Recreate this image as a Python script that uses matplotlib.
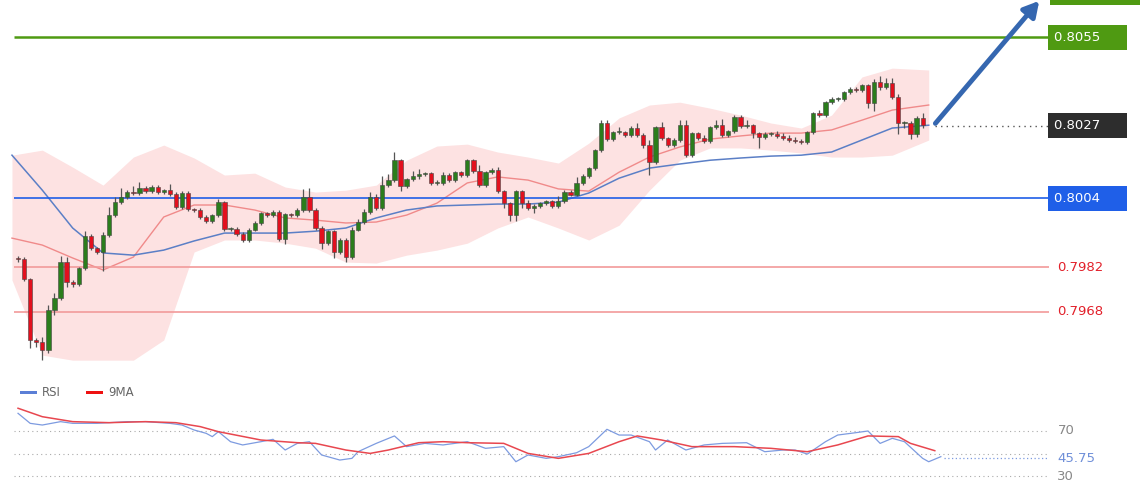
import matplotlib
matplotlib.use("Agg")
import matplotlib.pyplot as plt
import numpy as np
from matplotlib.patches import Rectangle

# ---- price data (one candle per index) ----
first_open = 0.79850
closes = [
    0.79847, 0.79783, 0.79590, 0.79584, 0.79558, 0.79685, 0.79723, 0.79837, 0.79774, 0.79767,
    0.79818, 0.79920, 0.79881, 0.79869, 0.79923, 0.79986, 0.80027, 0.80043, 0.80059, 0.80056,
    0.80072, 0.80062, 0.80075, 0.80059, 0.80065, 0.80053, 0.80011, 0.80056, 0.80005, 0.80002,
    0.79980, 0.79967, 0.79986, 0.80027, 0.79942, 0.79942, 0.79926, 0.79907, 0.79939, 0.79961,
    0.79992, 0.79986, 0.79996, 0.79910, 0.79989, 0.79986, 0.80002, 0.80043, 0.80002, 0.79945,
    0.79897, 0.79935, 0.79869, 0.79907, 0.79853, 0.79939, 0.79964, 0.79996, 0.80043, 0.80008,
    0.80081, 0.80097, 0.80160, 0.80078, 0.80100, 0.80110, 0.80116, 0.80119, 0.80088, 0.80088,
    0.80113, 0.80097, 0.80122, 0.80113, 0.80160, 0.80126, 0.80081, 0.80122, 0.80129, 0.80062,
    0.80024, 0.79986, 0.80062, 0.80024, 0.80008, 0.80015, 0.80024, 0.80030, 0.80015, 0.80030,
    0.80059, 0.80050, 0.80088, 0.80110, 0.80135, 0.80192, 0.80278, 0.80227, 0.80249, 0.80249,
    0.80240, 0.80262, 0.80240, 0.80208, 0.80154, 0.80265, 0.80230, 0.80208, 0.80224, 0.80271,
    0.80176, 0.80246, 0.80230, 0.80221, 0.80265, 0.80271, 0.80240, 0.80252, 0.80297, 0.80268,
    0.80271, 0.80246, 0.80233, 0.80243, 0.80243, 0.80237, 0.80230, 0.80224, 0.80221, 0.80218,
    0.80249, 0.80309, 0.80303, 0.80344, 0.80354, 0.80354, 0.80376, 0.80386, 0.80382, 0.80398,
    0.80341, 0.80408, 0.80392, 0.80405, 0.80360, 0.80278, 0.80278, 0.80243, 0.80294, 0.80271,
]
# wick extensions beyond the body, in pips
upper_wick = [
    1, 1, 1, 1, 3, 3, 3, 4, 3, 1,
    1, 3, 1, 1, 2, 5, 3, 6, 1, 4,
    4, 1, 1, 1, 1, 4, 1, 1, 1, 1,
    1, 1, 1, 2, 1, 1, 1, 1, 1, 1,
    1, 1, 1, 1, 1, 1, 1, 5, 6, 1,
    1, 1, 1, 1, 1, 2, 2, 2, 3, 2,
    6, 4, 5, 1, 1, 3, 3, 1, 1, 2,
    2, 1, 1, 1, 1, 1, 4, 1, 1, 2,
    1, 1, 1, 1, 2, 1, 1, 1, 1, 3,
    1, 1, 4, 1, 1, 1, 2, 2, 1, 3,
    1, 1, 3, 1, 3, 1, 3, 1, 1, 3,
    3, 1, 1, 2, 1, 3, 4, 1, 1, 1,
    3, 1, 1, 1, 1, 2, 2, 2, 2, 1,
    1, 1, 2, 1, 1, 1, 1, 1, 1, 1,
    1, 2, 4, 3, 3, 2, 1, 1, 1, 3,
]
lower_wick = [
    2, 1, 5, 3, 6, 2, 3, 1, 3, 2,
    1, 1, 1, 1, 12, 1, 1, 1, 1, 1,
    1, 1, 1, 1, 1, 1, 1, 1, 1, 1,
    1, 1, 1, 1, 1, 1, 1, 1, 1, 1,
    1, 1, 1, 1, 3, 1, 1, 1, 1, 1,
    4, 1, 4, 1, 3, 1, 1, 1, 1, 1,
    1, 1, 1, 3, 1, 1, 2, 1, 1, 1,
    1, 1, 1, 1, 1, 1, 1, 1, 1, 1,
    3, 4, 4, 3, 1, 3, 1, 1, 1, 1,
    1, 1, 1, 1, 1, 1, 1, 1, 1, 1,
    1, 1, 1, 2, 8, 1, 1, 1, 1, 1,
    1, 1, 1, 1, 1, 1, 1, 1, 1, 1,
    1, 3, 7, 1, 1, 1, 1, 1, 1, 1,
    1, 1, 1, 1, 1, 1, 1, 1, 1, 1,
    3, 5, 2, 1, 1, 7, 3, 3, 2, 2,
]

# ---- indicators sampled along the candle index ----
ind_idx = [-1, 4, 9, 14, 19, 24, 29, 34, 39, 44, 49, 54, 59, 64, 69, 74,
           79, 84, 89, 94, 99, 104, 109, 114, 119, 124, 129, 134, 139, 144, 150]
bb_upper = [0.80176, 0.80192, 0.80138, 0.80081, 0.80170, 0.80208, 0.80167, 0.80113,
            0.80119, 0.80075, 0.80059, 0.80065, 0.80081, 0.80160, 0.80205, 0.80211,
            0.80186, 0.80170, 0.80151, 0.80214, 0.80294, 0.80335, 0.80344, 0.80325,
            0.80303, 0.80278, 0.80262, 0.80303, 0.80424, 0.80452, 0.80446]
bb_lower = [0.79780, 0.79542, 0.79526, 0.79526, 0.79526, 0.79590, 0.79869, 0.79907,
            0.79907, 0.79897, 0.79881, 0.79837, 0.79834, 0.79859, 0.79875, 0.79897,
            0.79945, 0.79980, 0.79945, 0.79907, 0.79954, 0.80065, 0.80160, 0.80199,
            0.80199, 0.80192, 0.80183, 0.80170, 0.80170, 0.80176, 0.80224]
ma_fast = [0.79913, 0.79891, 0.79850, 0.79812, 0.79853, 0.79980, 0.80018, 0.80018,
           0.80002, 0.79977, 0.79970, 0.79961, 0.79964, 0.79986, 0.80024, 0.80088,
           0.80107, 0.80097, 0.80069, 0.80062, 0.80122, 0.80170, 0.80202, 0.80227,
           0.80237, 0.80246, 0.80246, 0.80256, 0.80287, 0.80319, 0.80335]
ma_slow = [0.80176, 0.80065, 0.79945, 0.79866, 0.79859, 0.79875, 0.79904, 0.79929,
           0.79929, 0.79929, 0.79935, 0.79945, 0.79977, 0.80002, 0.80015, 0.80018,
           0.80021, 0.80021, 0.80027, 0.80056, 0.80103, 0.80135, 0.80148, 0.80160,
           0.80167, 0.80173, 0.80176, 0.80186, 0.80224, 0.80262, 0.80271]

# ---- levels ----
resistance = 0.8055
pivot = 0.8004
supports = [0.7982, 0.7968]
last_price = 0.8027

# ---- RSI panel ----
rsi_idx = [0, 2, 4, 7, 9, 13, 18, 21, 25, 27, 29, 31, 32, 33, 35, 37, 40, 42, 44, 46,
           48, 50, 53, 55, 56, 59, 62, 64, 67, 70, 74, 77, 80, 82, 84, 87, 89, 92, 94, 97,
           99, 101, 104, 105, 107, 110, 113, 116, 120, 123, 126, 128, 130, 133, 135, 138,
           140, 142, 144, 146, 149, 150, 152]
rsi_val = [85.7, 76.8, 75.3, 78.3, 76.8, 76.8, 78.3, 78.3, 76.8, 75.3, 70.9, 67.9, 65.0,
           69.4, 60.5, 57.6, 60.5, 62.6, 53.1, 59.0, 60.5, 48.7, 44.2, 45.7, 51.6, 59.0,
           65.6, 56.1, 59.0, 57.6, 60.5, 54.6, 56.1, 42.7, 48.7, 45.7, 47.2, 50.7, 56.1,
           71.5, 66.4, 66.4, 60.5, 53.1, 62.0, 53.1, 57.6, 59.0, 59.6, 51.6, 53.1, 53.1,
           49.5, 60.5, 66.4, 68.5, 70.0, 59.0, 63.5, 60.5, 45.7, 42.7, 47.2]
ma9_idx = [0, 4, 9, 15, 21, 26, 30, 33, 40, 46, 49, 54, 58, 61, 66, 70, 74, 80, 84, 89,
           94, 99, 102, 106, 111, 118, 124, 130, 135, 140, 145, 147, 151]
ma9_val = [90.2, 82.7, 78.3, 77.4, 78.3, 77.4, 73.9, 69.4, 62.0, 59.6, 59.0, 53.1, 50.1,
           53.1, 59.6, 60.5, 59.6, 59.0, 50.1, 45.7, 50.1, 60.5, 65.6, 62.0, 56.1, 56.1,
           54.6, 51.6, 57.6, 65.6, 65.0, 59.0, 52.5]
rsi_last = 45.75

GREEN = "#2b7d1c"
RED = "#e2101e"
fig = plt.figure(figsize=(11.4, 5), dpi=100)
fig.patch.set_facecolor("white")
ax = fig.add_axes([0, 0.25, 1, 0.75])
rx = fig.add_axes([0, 0, 1, 0.24])
for a in (ax, rx):
    a.set_axis_off()
    a.set_xlim(-2.97, 184.8)
ax.set_ylim(0.79479, 0.80668)
rx.set_ylim(8.7, 115.3)

# bollinger band and moving averages
ax.fill_between(ind_idx, bb_lower, bb_upper, color="#fde2e2", lw=0, zorder=1)
ax.plot(ind_idx, ma_fast, color="#f08a8a", lw=1, zorder=2)
ax.plot(ind_idx, ma_slow, color="#5b7fc6", lw=1.1, zorder=2)

# levels
x0, x1 = -0.7, 169.8
ax.hlines(resistance, x0, x1, color="#4f9a12", lw=1.8, zorder=3)
ax.hlines(pivot, x0, x1, color="#1f5fe8", lw=1.2, zorder=3)
for s in supports:
    ax.hlines(s, x0, x1, color="#f29a9a", lw=1.2, zorder=3)

# candles
opens = [first_open] + closes[:-1]
for i, (o, c) in enumerate(zip(opens, closes)):
    hi = max(o, c) + upper_wick[i] * 1e-4 * 0.5
    lo = min(o, c) - lower_wick[i] * 1e-4 * 0.5
    col = GREEN if c >= o else RED
    ax.vlines(i, lo, hi, color="#555555", lw=0.9, zorder=4)
    h = max(abs(c - o), 0.000025)
    ax.add_patch(Rectangle((i - 0.35, min(o, c)), 0.7, h, facecolor=col,
                           edgecolor="#444444", lw=0.4, zorder=5))

# last price dotted line and forecast arrow
n = len(closes)
ax.hlines(last_price, n + 1, x1, color="#555555", lw=1, linestyles=(0, (1, 3)), zorder=3)
ax.annotate("", xy=(168.5, 0.80672), xytext=(n + 0.8, last_price),
            arrowprops=dict(arrowstyle="-|>,head_width=0.5,head_length=0.9",
                            color="#3567b0", lw=3.5), zorder=6, annotation_clip=False)

# right side labels
lx = 170.6
box = dict(boxstyle="square,pad=0.45", lw=0)
ax.text(lx, resistance, "0.8055     ", color="white", fontsize=9.5, va="center",
        bbox=dict(box, facecolor="#4f9a12"))
ax.text(lx, last_price, "0.8027     ", color="white", fontsize=9.5, va="center",
        bbox=dict(box, facecolor="#2d2d2d"))
ax.text(lx, pivot, "0.8004     ", color="white", fontsize=9.5, va="center",
        bbox=dict(box, facecolor="#1f5fe8"))
for s in supports:
    ax.text(lx + 0.6, s, f"{s:.4f}", color="#e2202a", fontsize=9.5, va="center")
ax.add_patch(Rectangle((lx - 0.6, 0.80652), 16, 0.0003, facecolor="#4f9a12", lw=0,
                       zorder=6))

# RSI panel
for lvl in (70, 50, 30):
    rx.hlines(lvl, -0.7, x1, color="#aaaaaa", lw=0.8, linestyles=(0, (1, 3)))
rx.plot(rsi_idx, rsi_val, color="#7d9be0", lw=0.9)
rx.plot(ma9_idx, ma9_val, color="#e8474f", lw=1.1)
rx.hlines(rsi_last, rsi_idx[-1] + 0.5, x1, color="#7d9be0", lw=0.9, linestyles=(0, (1, 2)))
rx.text(lx + 0.6, 70, "70", color="#888888", fontsize=9.5, va="center")
rx.text(lx + 0.6, 30, "30", color="#888888", fontsize=9.5, va="center")
rx.text(lx + 0.6, rsi_last, f"{rsi_last:.2f}", color="#6f8fd8", fontsize=9.5, va="center")
rx.add_patch(Rectangle((0.3, 103.2), 2.8, 2.2, facecolor="#5b7fd6", lw=0))
rx.text(4.0, 104.3, "RSI", color="#666666", fontsize=8.5, va="center")
rx.add_patch(Rectangle((11.2, 103.2), 2.8, 2.2, facecolor="#ee1111", lw=0))
rx.text(14.8, 104.3, "9MA", color="#666666", fontsize=8.5, va="center")

fig.savefig("out.png", dpi=100, facecolor="white")
